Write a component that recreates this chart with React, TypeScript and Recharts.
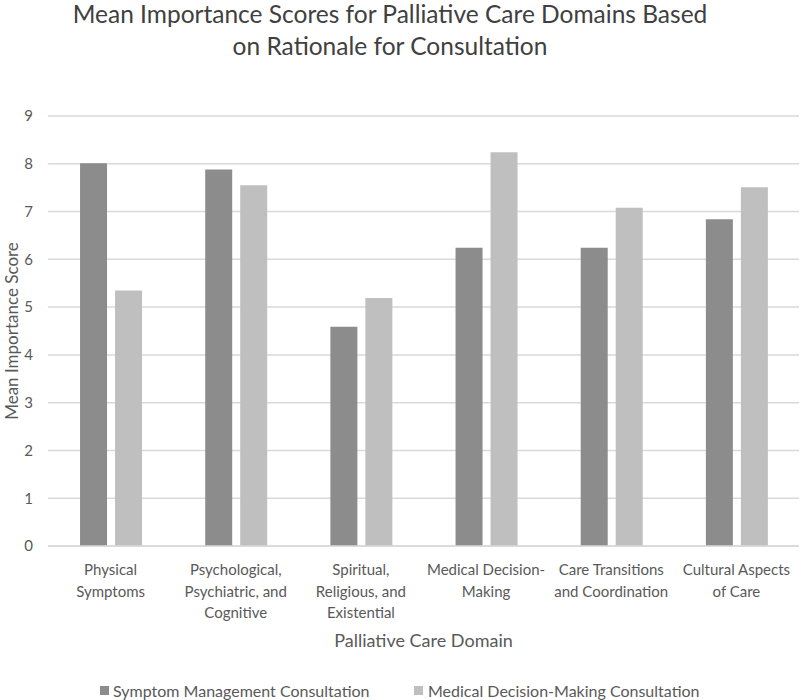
import React from 'react';
import { BarChart, Bar, XAxis, YAxis, CartesianGrid } from 'recharts';

const categories = [
  'Physical Symptoms',
  'Psychological, Psychiatric, and Cognitive',
  'Spiritual, Religious, and Existential',
  'Medical Decision-Making',
  'Care Transitions and Coordination',
  'Cultural Aspects of Care',
];

// wrapped tick labels, as they appear under the axis
const tickLines: Record<string, string[]> = {
  'Physical Symptoms': ['Physical', 'Symptoms'],
  'Psychological, Psychiatric, and Cognitive': ['Psychological,', 'Psychiatric, and', 'Cognitive'],
  'Spiritual, Religious, and Existential': ['Spiritual,', 'Religious, and', 'Existential'],
  'Medical Decision-Making': ['Medical Decision-', 'Making'],
  'Care Transitions and Coordination': ['Care Transitions', 'and Coordination'],
  'Cultural Aspects of Care': ['Cultural Aspects', 'of Care'],
};

const symptomManagement = [8.01, 7.88, 4.59, 6.24, 6.24, 6.84];
const medicalDecision = [5.35, 7.55, 5.19, 8.24, 7.08, 7.51];

const yTicks = [0, 1, 2, 3, 4, 5, 6, 7, 8, 9];

const FONT = 'Lato, "Open Sans", sans-serif';
const DARK = '#8c8c8c';
const LIGHT = '#bfbfbf';

const data = categories.map((name, i) => ({
  name,
  symptom: symptomManagement[i],
  medical: medicalDecision[i],
}));

const CategoryTick = (props: any) => {
  const { x, y, payload } = props;
  const lines = tickLines[payload.value] || [payload.value];
  return (
    <text x={x} y={y} textAnchor="middle" fill="#595959" fontSize={15} fontFamily={FONT}>
      {lines.map((l, i) => (
        <tspan key={i} x={x} dy={i === 0 ? 21 : 21.5}>{l}</tspan>
      ))}
    </text>
  );
};

const App: React.FC = () => {
  return (
    <div style={{ position: 'absolute', left: 0, top: 0, width: 800, height: 700, background: '#fff', fontFamily: FONT }}>
      <div style={{ position: 'absolute', top: -2, left: 0, width: 780, textAlign: 'center', fontSize: 24.5, lineHeight: '32px', color: '#404040' }}>
        Mean Importance Scores for Palliative Care Domains Based<br />on Rationale for Consultation
      </div>
      <BarChart width={800} height={700} data={data} margin={{ top: 116, right: 1, left: 0, bottom: 0 }}
        barCategoryGap="25.6%" barGap={8}>
        <CartesianGrid vertical={false} stroke="#d9d9d9" strokeWidth={1.5} />
        <XAxis dataKey="name" height={154} axisLine={{ stroke: '#d9d9d9', strokeWidth: 1.5 }} tickLine={false}
          tick={<CategoryTick />} interval={0}
          label={{ value: 'Palliative Care Domain', position: 'insideBottom', offset: 53, fill: '#595959', fontSize: 18, fontFamily: FONT }} />
        <YAxis width={48} domain={[0, 9]} ticks={yTicks} axisLine={false} tickLine={false} tickMargin={9}
          tick={{ fill: '#595959', fontSize: 15, fontFamily: FONT }}
          label={{ value: 'Mean Importance Score', angle: -90, position: 'insideLeft', offset: 12, style: { textAnchor: 'middle' }, fill: '#595959', fontSize: 17, fontFamily: FONT }} />
        <Bar dataKey="symptom" name="Symptom Management Consultation" fill={DARK} isAnimationActive={false} />
        <Bar dataKey="medical" name="Medical Decision-Making Consultation" fill={LIGHT} isAnimationActive={false} />
      </BarChart>
      <div style={{ position: 'absolute', top: 681, left: 0, width: 800, fontSize: 16, lineHeight: '20px', color: '#595959' }}>
        <span style={{ position: 'absolute', left: 100, top: 5, width: 9, height: 9, background: DARK }} />
        <span style={{ position: 'absolute', left: 113, top: 0 }}>Symptom Management Consultation</span>
        <span style={{ position: 'absolute', left: 414, top: 5, width: 9, height: 9, background: LIGHT }} />
        <span style={{ position: 'absolute', left: 428, top: 0 }}>Medical Decision-Making Consultation</span>
      </div>
    </div>
  );
};

export default App;
